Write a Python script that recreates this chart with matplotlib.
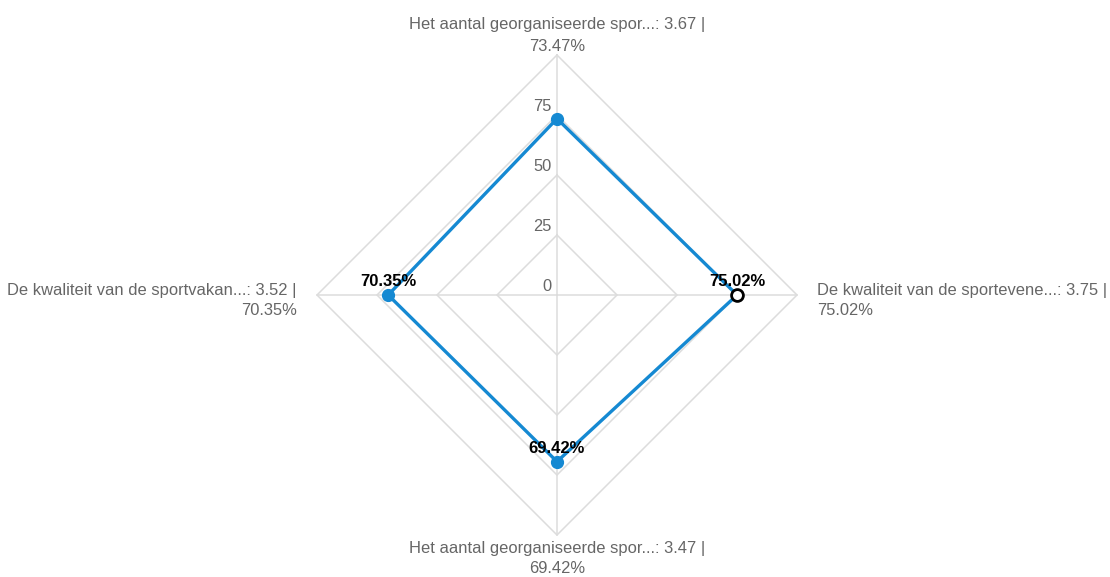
import numpy as np
import matplotlib
matplotlib.use("Agg")
import matplotlib.pyplot as plt

plt.rcParams['font.family'] = ['Liberation Sans', 'DejaVu Sans']

categories = [
    "Het aantal georganiseerde spor...",
    "De kwaliteit van de sportevene...",
    "Het aantal georganiseerde spor...",
    "De kwaliteit van de sportvakan...",
]
scores = [3.67, 3.75, 3.47, 3.52]
percentages = [73.47, 75.02, 69.42, 70.35]
show_value_label = [False, True, True, True]
ring_values = [25, 50, 75, 100]
tick_labels = ["0", "25", "50", "75"]
tick_values = [0, 25, 50, 75]
rmax = 100

W, H = 1110, 577
cx, cy = 557, 295  # pixel centre (from top)
scale = 2.4        # px per unit

fig = plt.figure(figsize=(W / 100, H / 100), dpi=100)
ax = fig.add_axes([0, 0, 1, 1])
ax.set_xlim(-cx / scale, (W - cx) / scale)
ax.set_ylim(-(H - cy) / scale, cy / scale)
ax.axis('off')

n = len(categories)
angles = np.pi / 2 - np.arange(n) * 2 * np.pi / n
ca, sa = np.cos(angles), np.sin(angles)

grid_col = '#dcdcdc'
for r in ring_values:
    xs = np.append(r * ca, r * ca[0])
    ys = np.append(r * sa, r * sa[0])
    ax.plot(xs, ys, color=grid_col, lw=1.1, zorder=1)
for i in range(n):
    ax.plot([0, rmax * ca[i]], [0, rmax * sa[i]], color=grid_col, lw=1.1, zorder=1)

for v, t in zip(tick_values, tick_labels):
    ax.text(-2.2, v + 3.4, t, ha='right', va='center', fontsize=11.8, color='#666666', zorder=2)

blue = '#1589d2'
vals = np.array(percentages)
xs = vals * ca
ys = vals * sa
ax.plot(np.append(xs, xs[0]), np.append(ys, ys[0]), color=blue, lw=2.4, zorder=3,
        solid_joinstyle='miter')
for i in range(n):
    if i == 1:
        ax.plot(xs[i], ys[i], 'o', ms=8.5, mfc='white', mec='black', mew=2, zorder=5)
    else:
        ax.plot(xs[i], ys[i], 'o', ms=8.5, mfc=blue, mec=blue, zorder=4)
    if show_value_label[i]:
        ax.text(xs[i], ys[i] + 5.5, f"{percentages[i]:.2f}%", ha='center', va='center',
                fontsize=12, fontweight='bold', color='black', zorder=6)

lab_col = '#666666'
fs = 11.9
ls = 1.42
labels = [f"{c}: {s:.2f} |\n{p:.2f}%" for c, s, p in zip(categories, scores, percentages)]
ax.text(0, rmax + 0.4, labels[0], ha='center', va='bottom', multialignment='center',
        fontsize=fs, color=lab_col, linespacing=1.55)
ax.text(rmax + 8.5, -2.2, labels[1], ha='left', va='center', multialignment='left',
        fontsize=fs, color=lab_col, linespacing=ls)
ax.text(0, -rmax - 2.3, labels[2], ha='center', va='top', multialignment='center',
        fontsize=fs, color=lab_col, linespacing=ls)
ax.text(-rmax - 8.5, -2.2, labels[3], ha='right', va='center', multialignment='right',
        fontsize=fs, color=lab_col, linespacing=ls)

fig.savefig('out.png', dpi=100, facecolor='white')
